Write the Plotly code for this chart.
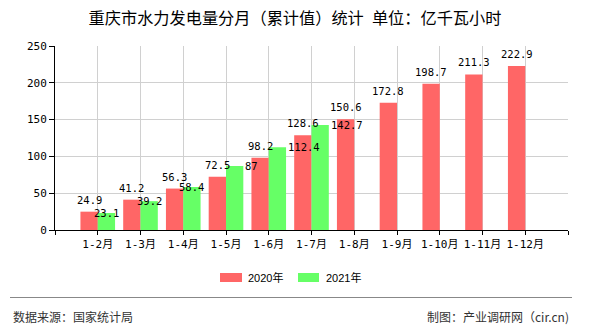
import plotly.graph_objects as go

# Monthly cumulative hydropower output, Chongqing (100 million kWh)
months = ["1-2月", "1-3月", "1-4月", "1-5月", "1-6月", "1-7月",
          "1-8月", "1-9月", "1-10月", "1-11月", "1-12月"]
values_2020 = [24.9, 41.2, 56.3, 72.5, 98.2, 128.6, 150.6, 172.8, 198.7, 211.3, 222.9]
values_2021 = [23.1, 39.2, 58.4, 87, 112.4, 142.7]
series_names = ["2020年", "2021年"]

title_text = "重庆市水力发电量分月（累计值）统计\u2002单位：亿千瓦小时"
source_text = "数据来源：国家统计局"
credit_text = "制图：产业调研网（cir.cn)"

RED = "#ff6666"
GREEN = "#66ff66"
MONO = "DejaVu Sans Mono, Noto Sans CJK SC, monospace"
CJK = "Noto Sans CJK SC, sans-serif"

W, H = 590, 330
L, R, T, B = 55, 22, 46, 100
PW, PH = W - L - R, H - T - B

BARGAP = 0.19
BAR_W = (1 - BARGAP) / 2

positions = list(range(1, len(months) + 1))


def px_x(px):
    return (px - L) / PW


def px_y(py):
    return (H - B - py) / PH


fig = go.Figure()
fig.add_trace(go.Bar(name=series_names[0], x=positions[:len(values_2020)], y=values_2020,
                     marker=dict(color=RED, line=dict(width=0)), showlegend=False))
fig.add_trace(go.Bar(name=series_names[1], x=positions[:len(values_2021)], y=values_2021,
                     marker=dict(color=GREEN, line=dict(width=0)), showlegend=False))

annotations = []
# value labels above the 2020 bars
for p, v in zip(positions, values_2020):
    annotations.append(dict(x=p - BAR_W / 2, y=v, xref="x", yref="y", text=f"{v:g}",
                            showarrow=False, xanchor="center", yanchor="bottom", yshift=4,
                            font=dict(family=MONO, size=10.5, color="#000")))
# value labels at the top of the 2021 bars
anchors_2021 = ["center", "center", "center", "left", "left", "left"]
for p, v, a in zip(positions, values_2021, anchors_2021):
    x = p + BAR_W / 2 if a == "center" else p + BAR_W
    annotations.append(dict(x=x, y=v, xref="x", yref="y", text=f"{v:g}",
                            showarrow=False, xanchor=a, yanchor="middle",
                            font=dict(family=MONO, size=10.5, color="#000")))

# legend
shapes = []
legend_items = [(220, 242, 246, RED, series_names[0]), (298, 319, 324, GREEN, series_names[1])]
for x0, x1, tx, col, name in legend_items:
    shapes.append(dict(type="rect", xref="paper", yref="paper",
                       x0=px_x(x0), x1=px_x(x1), y0=px_y(282), y1=px_y(273),
                       fillcolor=col, line=dict(width=0)))
    annotations.append(dict(x=px_x(tx), y=px_y(277.5), xref="paper", yref="paper",
                            text=name, showarrow=False, xanchor="left", yanchor="middle",
                            font=dict(family="Liberation Sans, Noto Sans CJK SC", size=11, color="#000")))

# footer
shapes.append(dict(type="line", xref="paper", yref="paper",
                   x0=px_x(10), x1=px_x(572), y0=px_y(297.5), y1=px_y(297.5),
                   line=dict(color="#888888", width=1)))
annotations.append(dict(x=px_x(11), y=px_y(316), xref="paper", yref="paper", text=source_text,
                        showarrow=False, xanchor="left", yanchor="middle",
                        font=dict(family=CJK, size=12, color="#333")))
annotations.append(dict(x=px_x(571), y=px_y(316), xref="paper", yref="paper", text=credit_text,
                        showarrow=False, xanchor="right", yanchor="middle",
                        font=dict(family=CJK, size=12, color="#333")))

fig.update_layout(
    width=W, height=H,
    margin=dict(l=L, r=R, t=T, b=B, pad=0),
    paper_bgcolor="white", plot_bgcolor="white",
    barmode="group", bargap=BARGAP, bargroupgap=0,
    title=dict(text=title_text, x=0.5, xref="container", xanchor="center",
               y=1 - 18 / H, yref="container", yanchor="middle",
               font=dict(family=CJK, size=16.2, color="#000")),
    xaxis=dict(range=[0, len(months) + 1],
               tickmode="array", tickvals=list(range(0, len(months) + 2)),
               ticktext=[""] + months + [""],
               showgrid=True, gridcolor="#d0d0d0", gridwidth=1,
               showline=True, linecolor="#000", linewidth=1,
               ticks="outside", ticklen=4, tickcolor="#000",
               zeroline=False, fixedrange=True,
               tickfont=dict(family=MONO, size=11, color="#000")),
    yaxis=dict(range=[0, 250], dtick=50, tick0=0,
               showgrid=True, gridcolor="#d0d0d0", gridwidth=1,
               showline=True, linecolor="#000", linewidth=1,
               ticks="outside", ticklen=5, tickcolor="#000",
               zeroline=False, fixedrange=True,
               tickfont=dict(family=MONO, size=11, color="#000")),
    annotations=annotations,
    shapes=shapes,
)

fig.write_html("out.html")
